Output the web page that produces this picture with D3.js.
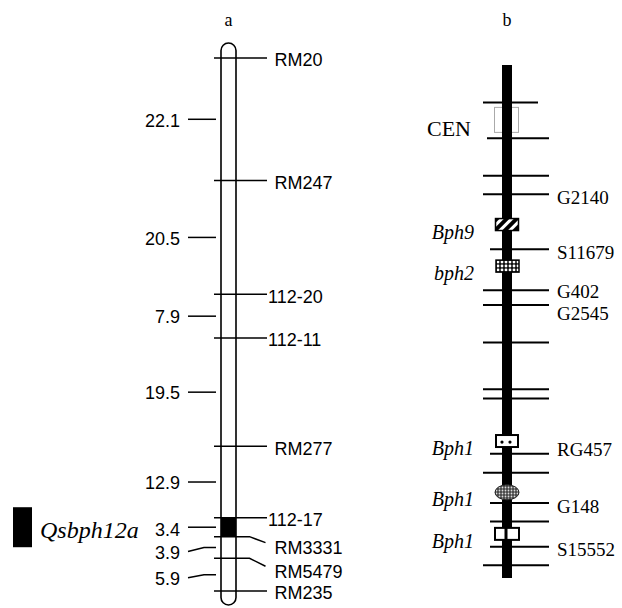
<!DOCTYPE html>
<html>
<head>
<meta charset="utf-8">
<script src="https://cdn.jsdelivr.net/npm/d3@7"></script>
<style>
  body { margin: 0; background: #fff; }
  svg { display: block; }
</style>
</head>
<body>
<svg id="chart" width="622" height="608"></svg>
<script>
// panel a: linkage map, distances in cM between neighbouring markers
const aMarkers = ["RM20", "RM247", "112-20", "112-11", "RM277", "112-17", "RM3331", "RM5479", "RM235"];
const aIntervals = [22.1, 20.5, 7.9, 19.5, 12.9, 3.4, 3.9, 5.9];
const aQtl = ["Qsbph12a", "112-17", "RM3331"];

// panel b: positions in map units (0 = top of bar, 100 = bottom)
const bMarkerPos = [7.3, 14.3, 21.6, 25.2, 35.9, 43.9, 46.8, 54.1, 63.2, 65.0, 75.8, 79.5, 85.4, 89.0, 93.9, 97.5];
const bMarkerNames = ["", "", "", "G2140", "S11679", "G402", "G2545", "", "", "", "RG457", "", "G148", "", "S15552", ""];
const bGenes = ["CEN", "Bph9", "bph2", "Bph1", "Bph1", "Bph1"];
const bGenePos = [10.7, 31.1, 39.2, 73.3, 83.3, 91.4];
const bGeneKind = ["cen", "hatch", "cross", "dots", "oval", "split"];

const sans = "'Liberation Sans', Arial, sans-serif";
const serif = "'Liberation Serif', 'Times New Roman', serif";

const svg = d3.select("#chart");
svg.append("rect").attr("width", 622).attr("height", 608).attr("fill", "#fff");

const defs = svg.append("defs");
const hatch = defs.append("pattern").attr("id", "hatch")
  .attr("patternUnits", "userSpaceOnUse").attr("width", 7).attr("height", 7)
  .attr("patternTransform", "rotate(45)");
hatch.append("rect").attr("width", 7).attr("height", 7).attr("fill", "#fff");
hatch.append("rect").attr("width", 4).attr("height", 7).attr("fill", "#000");

const cross = defs.append("pattern").attr("id", "cross")
  .attr("patternUnits", "userSpaceOnUse").attr("width", 4).attr("height", 4);
cross.append("rect").attr("width", 4).attr("height", 4).attr("fill", "#111");
cross.append("circle").attr("cx", 2).attr("cy", 2).attr("r", 1.4).attr("fill", "#fff");

const dots = defs.append("pattern").attr("id", "dots")
  .attr("patternUnits", "userSpaceOnUse").attr("width", 3).attr("height", 3);
dots.append("rect").attr("width", 3).attr("height", 3).attr("fill", "#444");
dots.append("circle").attr("cx", 1.5).attr("cy", 1.5).attr("r", 0.9).attr("fill", "#ddd");

// ---------- panel a ----------
const aPos = [0, ...d3.cumsum(aIntervals)];
const yA = d3.scaleLinear().domain([0, d3.max(aPos)]).range([58, 591]);
const ax = 228.5, aw = 15;

svg.append("text").attr("x", ax).attr("y", 20).attr("dy", "0.35em")
  .attr("text-anchor", "middle").style("font", `18px ${serif}`).text("a");

svg.append("rect")
  .attr("x", ax - aw / 2).attr("y", yA(0) - 15)
  .attr("width", aw).attr("height", yA(d3.max(aPos)) - yA(0) + 29)
  .attr("rx", aw / 2).attr("ry", aw / 2)
  .attr("fill", "#fff").attr("stroke", "#000").attr("stroke-width", 1.6);

// QTL block
const qFrom = aPos[aMarkers.indexOf(aQtl[1])], qTo = aPos[aMarkers.indexOf(aQtl[2])];
svg.append("rect")
  .attr("x", ax - aw / 2).attr("y", yA(qFrom))
  .attr("width", aw).attr("height", yA(qTo) - yA(qFrom))
  .attr("fill", "#000");

svg.append("rect").attr("x", 13).attr("y", yA((qFrom + qTo) / 2) - 20)
  .attr("width", 19).attr("height", 40).attr("fill", "#000");
svg.append("text").attr("x", 40).attr("y", yA((qFrom + qTo) / 2) + 2).attr("dy", "0.35em")
  .style("font", `italic 24px ${serif}`).text(aQtl[0]);

// marker lines and names
const nameShift = { "RM3331": 9, "RM5479": 11 };
const aLine = d3.line();
aMarkers.forEach((name, i) => {
  const y = yA(aPos[i]);
  const sh = nameShift[name] || 0;
  const pts = sh ? [[ax - 14.5, y], [ax + 21, y], [ax + 37, y + sh - 3]] : [[ax - 14.5, y], [ax + 38.5, y]];
  svg.append("path").attr("d", aLine(pts))
    .attr("fill", "none").attr("stroke", "#000").attr("stroke-width", 1.5);
  const lx = /^\d/.test(name) ? ax + 39.5 : ax + 46;
  svg.append("text").attr("x", lx).attr("y", y + 2 + sh).attr("dy", "0.35em")
    .style("font", `18px ${sans}`).text(name);
});

// interval distances
const distShift = [0, 0, 0, 0, 0, 1, 4, 3];
aIntervals.forEach((d, i) => {
  const y = yA((aPos[i] + aPos[i + 1]) / 2);
  const sh = distShift[i];
  const pts = sh > 1 ? [[188, y + sh], [204, y], [216, y]] : [[188, y], [216, y]];
  svg.append("path").attr("d", aLine(pts))
    .attr("fill", "none").attr("stroke", "#000").attr("stroke-width", 1.5);
  svg.append("text").attr("x", 180).attr("y", y + sh + 1).attr("dy", "0.35em")
    .attr("text-anchor", "end").style("font", `18px ${sans}`).text(d.toFixed(1));
});

// ---------- panel b ----------
const yB = d3.scaleLinear().domain([0, 100]).range([65, 578]);
const bx = 507, bw = 10;

svg.append("text").attr("x", bx).attr("y", 20).attr("dy", "0.35em")
  .attr("text-anchor", "middle").style("font", `18px ${serif}`).text("b");

// centromere box sits behind the bar
const cenIdx = bGeneKind.indexOf("cen");
svg.append("rect")
  .attr("x", bx - 12.5).attr("y", yB(bGenePos[cenIdx]) - 12.5)
  .attr("width", 24).attr("height", 25)
  .attr("fill", "none").attr("stroke", "#aaa").attr("stroke-width", 1);

const shortLeft = new Set([4, 10, 12, 13, 14]);
const nameNudge = { "RG457": -5, "G2545": 8, "G402": 1 };
bMarkerPos.forEach((p, i) => {
  const y = yB(p);
  const x1 = i === 0 ? 483 : i === 1 ? 487 : shortLeft.has(i) ? 490 : 483;
  const x2 = i === 0 ? 538 : 549;
  svg.append("line").attr("x1", x1).attr("x2", x2).attr("y1", y).attr("y2", y)
    .attr("stroke", "#000").attr("stroke-width", 2);
  const name = bMarkerNames[i];
  if (name) {
    const nudge = name in nameNudge ? nameNudge[name] : 3;
    svg.append("text").attr("x", 557).attr("y", y + nudge).attr("dy", "0.35em")
      .style("font", `19px ${serif}`).text(name);
  }
});

svg.append("rect").attr("x", bx - bw / 2).attr("y", yB(0))
  .attr("width", bw).attr("height", yB(100) - yB(0)).attr("fill", "#000");

bGenes.forEach((g, i) => {
  const y = yB(bGenePos[i]);
  const kind = bGeneKind[i];
  if (kind === "hatch") {
    svg.append("rect").attr("x", bx - 11.5).attr("y", y - 6).attr("width", 23).attr("height", 12)
      .attr("fill", "url(#hatch)").attr("stroke", "#000").attr("stroke-width", 1.5);
  } else if (kind === "cross") {
    svg.append("rect").attr("x", bx - 11).attr("y", y - 6).attr("width", 23).attr("height", 12)
      .attr("fill", "url(#cross)").attr("stroke", "#000").attr("stroke-width", 1.5);
  } else if (kind === "dots") {
    svg.append("rect").attr("x", bx - 11).attr("y", y - 6).attr("width", 22).attr("height", 12)
      .attr("fill", "#fff").attr("stroke", "#000").attr("stroke-width", 2);
    [-4, 4].forEach(dx => svg.append("circle").attr("cx", bx - 1 + dx).attr("cy", y + 1)
      .attr("r", 1.6).attr("fill", "#000"));
  } else if (kind === "oval") {
    svg.append("ellipse").attr("cx", bx).attr("cy", y).attr("rx", 12).attr("ry", 7.5)
      .attr("fill", "url(#dots)").attr("stroke", "#222").attr("stroke-width", 1);
  } else if (kind === "split") {
    svg.append("rect").attr("x", bx - 12).attr("y", y - 6).attr("width", 24).attr("height", 12)
      .attr("fill", "#fff").attr("stroke", "#000").attr("stroke-width", 2);
    svg.append("line").attr("x1", bx - 1).attr("x2", bx - 1).attr("y1", y - 6).attr("y2", y + 6)
      .attr("stroke", "#000").attr("stroke-width", 3);
  }
  const label = svg.append("text")
    .attr("x", kind === "cen" ? 471 : 474)
    .attr("y", y + (kind === "cen" ? 8 : 7)).attr("dy", "0.35em")
    .attr("text-anchor", "end");
  if (kind === "cen") label.style("font", `22px ${serif}`);
  else label.style("font", `italic 20px ${serif}`);
  label.text(g);
});
</script>
</body>
</html>
